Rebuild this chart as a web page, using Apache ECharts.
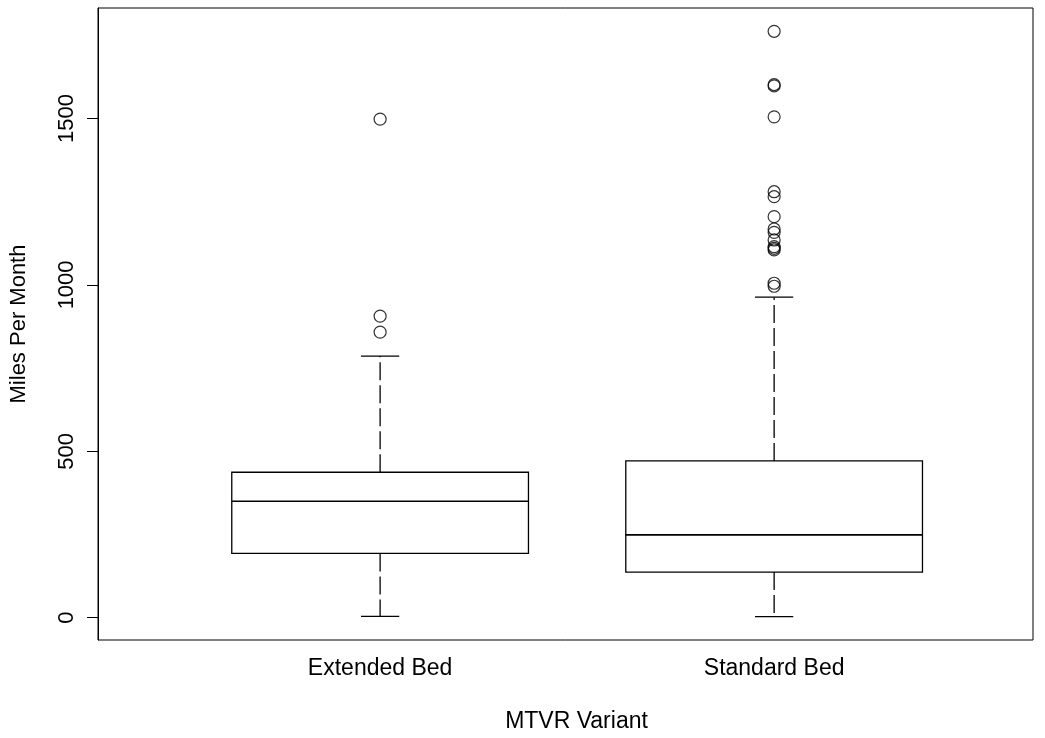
<!DOCTYPE html>
<html>
<head>
<meta charset="utf-8">
<script src="https://cdn.jsdelivr.net/npm/echarts@6/dist/echarts.min.js"></script>
<style>html,body{margin:0;padding:0;background:#fff;}#c{width:1045px;height:738px;}</style>
</head>
<body>
<div id="c"></div>
<script>
// ---- data ----
const categories = ['Extended Bed', 'Standard Bed'];
const categoryPos = [1, 2];
// [lower whisker, Q1, median, Q3, upper whisker]
const extendedStats = [4, 193, 350, 437, 786];
const standardStats = [3, 137, 249, 471, 963];
const extendedOutliers = [1498, 906, 858];
const standardOutliers = [1762, 1602, 1598, 1505, 1280, 1265, 1205, 1168, 1158, 1135, 1115, 1110, 1105, 1005, 996];
const yTicks = [0, 500, 1000, 1500];
const xTitle = 'MTVR Variant';
const yTitle = 'Miles Per Month';

// ---- build ----
const statsList = [extendedStats, standardStats];
const outlierList = [extendedOutliers, standardOutliers];
const boxData = statsList.map((s, i) => [categoryPos[i]].concat(s));
const outlierData = [];
outlierList.forEach((arr, i) => arr.forEach(v => outlierData.push([categoryPos[i], v])));

const FONT = '"Liberation Sans", Arial, Helvetica, sans-serif';
const BOX_W = 0.753;   // in x-axis units
const CAP_W = 0.097;

function renderBox(params, api) {
  const x = api.value(0);
  const pMin = api.coord([x, api.value(1)]);
  const pQ1 = api.coord([x, api.value(2)]);
  const pMed = api.coord([x, api.value(3)]);
  const pQ3 = api.coord([x, api.value(4)]);
  const pMax = api.coord([x, api.value(5)]);
  const halfW = api.size([BOX_W, 0])[0] / 2;
  const halfC = api.size([CAP_W, 0])[0] / 2;
  const cx = pMed[0];
  const solid = { stroke: '#000', lineWidth: 1.3, fill: null };
  const dashed = { stroke: '#000', lineWidth: 1.3, lineDash: [18, 5] };
  return {
    type: 'group',
    children: [
      { type: 'line', shape: { x1: cx, y1: pQ3[1], x2: cx, y2: pMax[1] }, style: dashed },
      { type: 'line', shape: { x1: cx, y1: pQ1[1], x2: cx, y2: pMin[1] }, style: dashed },
      { type: 'line', shape: { x1: cx - halfC, y1: pMax[1], x2: cx + halfC, y2: pMax[1] }, style: solid },
      { type: 'line', shape: { x1: cx - halfC, y1: pMin[1], x2: cx + halfC, y2: pMin[1] }, style: solid },
      { type: 'rect', shape: { x: cx - halfW, y: pQ3[1], width: halfW * 2, height: pQ1[1] - pQ3[1] }, style: { stroke: '#000', lineWidth: 1.3, fill: '#fff' } },
      { type: 'line', shape: { x1: cx - halfW, y1: pMed[1], x2: cx + halfW, y2: pMed[1] }, style: { stroke: '#000', lineWidth: 1.6 } }
    ]
  };
}

const chart = echarts.init(document.getElementById('c'), null, { renderer: 'canvas' });
chart.setOption({
  animation: false,
  backgroundColor: '#fff',
  grid: { left: 97, right: 12, top: 8, bottom: 98, show: true, borderColor: '#000', borderWidth: 1, backgroundColor: 'transparent' },
  xAxis: {
    type: 'value',
    min: 0.284, max: 2.657,
    name: xTitle,
    nameLocation: 'middle',
    nameGap: 70,
    nameTextStyle: { fontFamily: FONT, fontSize: 23, color: '#000', padding: [0, 0, 0, 22] },
    axisLine: { show: false },
    axisTick: { show: false },
    splitLine: { show: false },
    axisLabel: {
      customValues: categoryPos,
      margin: 17,
      fontFamily: FONT, fontSize: 23, color: '#000',
      formatter: v => categories[categoryPos.indexOf(v)] || ''
    }
  },
  yAxis: {
    type: 'value',
    min: -67, max: 1832,
    name: yTitle,
    nameLocation: 'middle',
    nameGap: 68,
    nameRotate: 90,
    nameTextStyle: { fontFamily: FONT, fontSize: 22, color: '#000' },
    axisLine: { show: true, lineStyle: { color: '#000', width: 1 } },
    axisTick: { show: true, customValues: yTicks, length: 11, lineStyle: { color: '#000', width: 1 } },
    splitLine: { show: false },
    axisLabel: {
      customValues: yTicks, rotate: 90, margin: 20,
      fontFamily: FONT, fontSize: 22, color: '#000',
      formatter: v => String(v)
    }
  },
  series: [
    {
      type: 'custom',
      renderItem: renderBox,
      data: boxData,
      encode: { x: 0, y: [1, 2, 3, 4, 5] },
      silent: true,
      z: 2
    },
    {
      type: 'scatter',
      data: outlierData,
      symbol: 'circle',
      symbolSize: 12,
      itemStyle: { color: 'rgba(0,0,0,0)', borderColor: '#000', borderWidth: 1.2 },
      silent: true,
      z: 3
    }
  ]
});
</script>
</body>
</html>
